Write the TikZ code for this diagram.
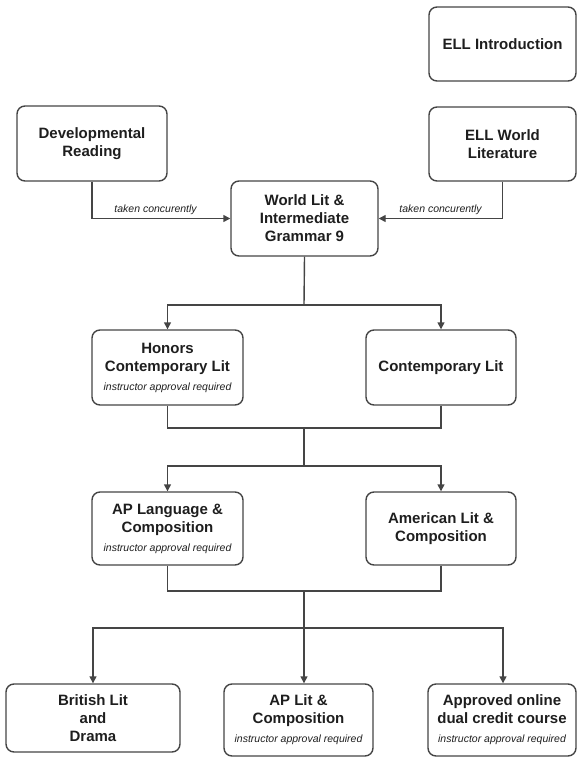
\documentclass[tikz,border=0pt]{standalone}
\usepackage{fontspec}
\setmainfont{Liberation Sans}
\usetikzlibrary{arrows.meta}
\definecolor{lc}{HTML}{454545}
\definecolor{tc}{HTML}{1E1E1E}
\tikzset{
  box/.style={draw=lc, line width=1.4pt, rounded corners=8pt, align=center, inner sep=0pt,
    text=tc, font=\fontsize{15}{18}\selectfont\bfseries},
  conn/.style={draw=lc, line width=1.4pt},
  arr/.style={conn, -{Triangle[length=7pt,width=7pt]}},
  lbl/.style={font=\fontsize{10.5}{12}\selectfont\itshape, text=tc, inner sep=3pt},
}
\newcommand{\approvaltext}{{\fontsize{10.5}{12}\selectfont\mdseries\itshape instructor approval required}}
\begin{document}
\begin{tikzpicture}[x=1pt,y=-1pt]
\useasboundingbox (0,0) rectangle (577,758);
% top
\node[box, minimum width=147pt, minimum height=74pt] (ellintro) at (502.5,44) {ELL Introduction};
\node[box, minimum width=150pt, minimum height=75pt] (devread) at (92,143.5) {Developmental\\Reading};
\node[box, minimum width=147pt, minimum height=74pt] (ellworld) at (502.5,144) {ELL World\\Literature};
\node[box, minimum width=147pt, minimum height=75pt] (worldlit) at (304.5,218.5) {World Lit \&\\Intermediate\\Grammar 9};
% row 2
\node[box, minimum width=151pt, minimum height=75pt] (honors) at (167.5,367.5) {Honors\\Contemporary Lit\\[1pt]\approvaltext};
\node[box, minimum width=150pt, minimum height=75pt] (contemp) at (441,367.5) {Contemporary Lit};
% row 3
\node[box, minimum width=151pt, minimum height=73pt] (aplang) at (167.5,528.5) {AP Language \&\\Composition\\[1pt]\approvaltext};
\node[box, minimum width=150pt, minimum height=73pt] (american) at (441,528.5) {American Lit \&\\Composition};
% bottom
\node[box, minimum width=174pt, minimum height=68pt] (british) at (93,718) {British Lit\\and\\Drama};
\node[box, minimum width=149pt, minimum height=72pt] (aplit) at (298.5,720) {AP Lit \&\\Composition\\[1pt]\approvaltext};
\node[box, minimum width=148pt, minimum height=72pt] (approved) at (502,720) {Approved online\\dual credit course\\[1pt]\approvaltext};
% junctions
\coordinate (ja) at (304,305);
\coordinate (jb) at (304,428);
\coordinate (jc) at (304,466);
\coordinate (jd) at (304,591);
\coordinate (je) at (304,628);
% connectors top
\draw[arr] (devread.south) |- node[lbl, pos=0.73, above] {taken concurently} (worldlit.west);
\draw[arr] (ellworld.south) |- node[lbl, pos=0.75, above] {taken concurently} (worldlit.east);
% worldlit to row 2
\draw[conn] (worldlit.south) -- (ja);
\draw[arr] (ja) -| (honors.north);
\draw[arr] (ja) -| (contemp.north);
% row 2 to row 3
\draw[conn] (honors.south) |- (jb);
\draw[conn] (contemp.south) |- (jb);
\draw[conn] (jb) -- (jc);
\draw[arr] (jc) -| (aplang.north);
\draw[arr] (jc) -| (american.north);
% row 3 to bottom
\draw[conn] (aplang.south) |- (jd);
\draw[conn] (american.south) |- (jd);
\draw[arr] (jd) -- (jd |- aplit.north);
\draw[conn] (jd) -- (je);
\draw[arr] (je) -| (british.north);
\draw[arr] (je) -| ([xshift=1pt]approved.north);
\end{tikzpicture}
\end{document}
